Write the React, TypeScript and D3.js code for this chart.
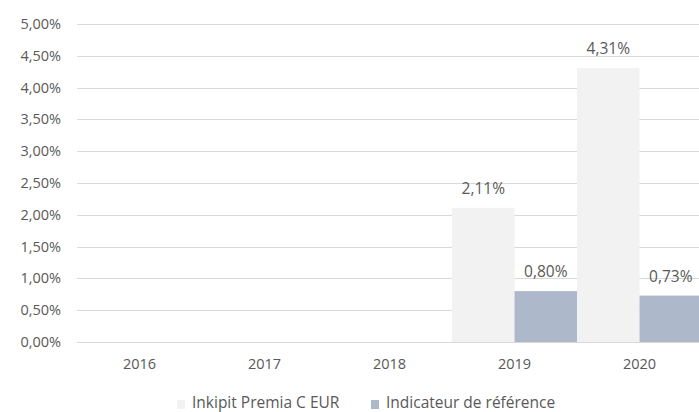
import React, { useEffect, useRef } from 'react';
import * as d3 from 'd3';

const years = ['2016', '2017', '2018', '2019', '2020'];
const seriesNames = ['Inkipit Premia C EUR', 'Indicateur de référence'];
const fundValues = [null, null, null, 2.11, 4.31];
const benchValues = [null, null, null, 0.8, 0.73];
const yTicks = [0, 0.5, 1, 1.5, 2, 2.5, 3, 3.5, 4, 4.5, 5];

const COLORS = ['#f2f2f2', '#adb9ca'];
const TEXT = '#595959';
const FONT = '"Open Sans", "Noto Sans", sans-serif';

const fmt = (v: number) => v.toFixed(2).replace('.', ',') + '%';

const App = () => {
  const svgRef = useRef<SVGSVGElement>(null);
  const width = 699;
  const height = 412;

  useEffect(() => {
    const svg = d3.select(svgRef.current);
    svg.selectAll('*').remove();

    // echelles
    const x = d3.scaleBand().domain(years).range([77, 702]).padding(0);
    const xs = d3.scaleBand().domain(seriesNames).range([0, x.bandwidth()]).padding(0);
    const y = d3.scaleLinear().domain([0, 5]).range([342, 24]);

    // grille
    svg.append('g')
      .selectAll('line')
      .data(yTicks)
      .enter()
      .append('line')
      .attr('x1', 77)
      .attr('x2', width)
      .attr('y1', d => Math.round(y(d)) + 0.5)
      .attr('y2', d => Math.round(y(d)) + 0.5)
      .attr('stroke', '#d9d9d9')
      .attr('stroke-width', 1);

    // etiquettes axe Y
    svg.append('g')
      .selectAll('text')
      .data(yTicks)
      .enter()
      .append('text')
      .attr('x', 61)
      .attr('y', d => y(d))
      .attr('dy', '0.35em')
      .attr('text-anchor', 'end')
      .attr('fill', TEXT)
      .style('font-family', FONT)
      .style('font-size', '14.5px')
      .text(d => fmt(d));

    // barres
    const series = [fundValues, benchValues];
    series.forEach((vals, si) => {
      const rows = years.map((yr, i) => ({ yr, v: vals[i] })).filter(d => d.v != null) as { yr: string; v: number }[];
      const g = svg.append('g');
      g.selectAll('rect')
        .data(rows)
        .enter()
        .append('rect')
        .attr('x', d => (x(d.yr) as number) + (xs(seriesNames[si]) as number))
        .attr('y', d => y(d.v))
        .attr('width', xs.bandwidth())
        .attr('height', d => y(0) - y(d.v))
        .attr('fill', COLORS[si]);
      g.selectAll('text')
        .data(rows)
        .enter()
        .append('text')
        .attr('x', d => (x(d.yr) as number) + (xs(seriesNames[si]) as number) + xs.bandwidth() / 2)
        .attr('y', d => y(d.v) - 14)
        .attr('text-anchor', 'middle')
        .attr('fill', TEXT)
        .style('font-family', FONT)
        .style('font-size', '15.5px')
        .text(d => fmt(d.v));
    });

    // axe X
    svg.append('g')
      .selectAll('text')
      .data(years)
      .enter()
      .append('text')
      .attr('x', d => (x(d) as number) + x.bandwidth() / 2)
      .attr('y', 369)
      .attr('text-anchor', 'middle')
      .attr('fill', TEXT)
      .style('font-family', FONT)
      .style('font-size', '14.5px')
      .text(d => d);

    // legende
    const legendX = [177, 371];
    const legend = svg.append('g');
    seriesNames.forEach((name, i) => {
      legend.append('rect')
        .attr('x', legendX[i])
        .attr('y', 400)
        .attr('width', 8)
        .attr('height', 9)
        .attr('fill', COLORS[i]);
      legend.append('text')
        .attr('x', legendX[i] + 15)
        .attr('y', 408)
        .attr('fill', TEXT)
        .style('font-family', FONT)
        .style('font-size', '15.5px')
        .text(name);
    });
  }, []);

  return (
    <svg
      ref={svgRef}
      width={width}
      height={height}
      style={{ position: 'absolute', left: 0, top: 0, background: '#fff' }}
    />
  );
};

export default App;
